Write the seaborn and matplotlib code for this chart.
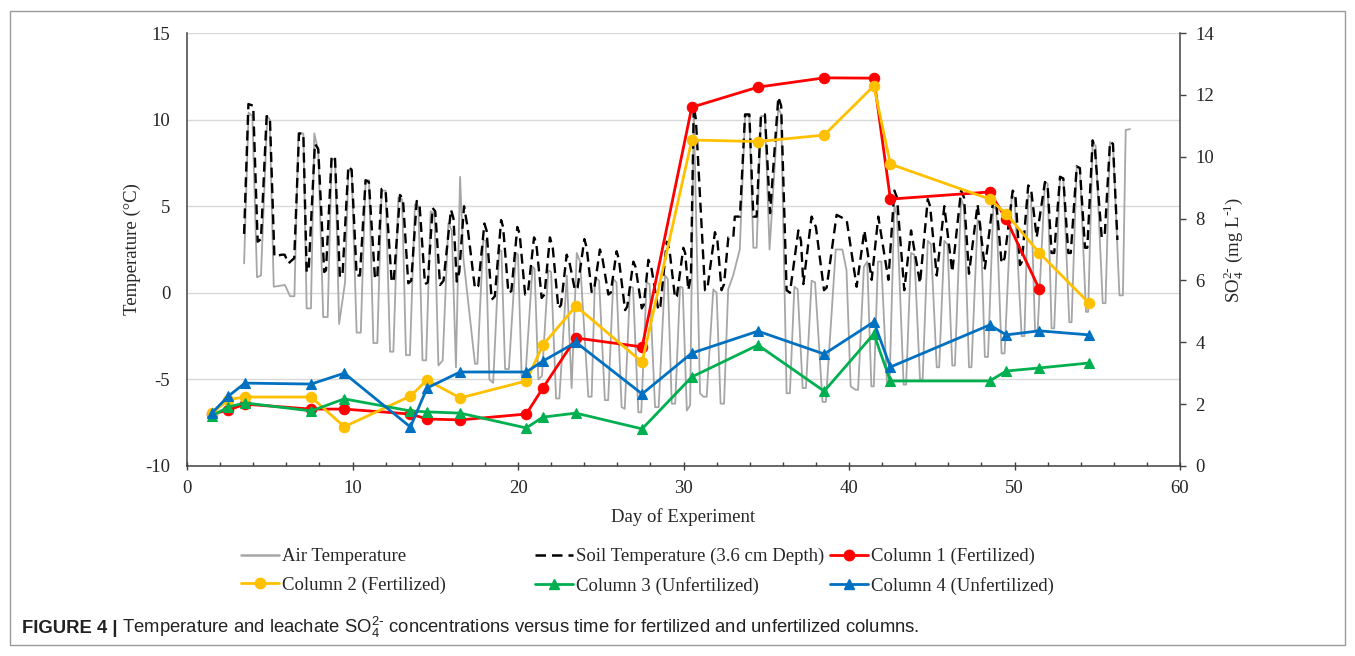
import numpy as np
import matplotlib
matplotlib.use("Agg")
import matplotlib.pyplot as plt
from matplotlib.lines import Line2D
from matplotlib.patches import Rectangle
from matplotlib.ticker import MultipleLocator
import seaborn as sns

# ---------------- data ----------------
# Air temperature (°C), vertices of the hourly record
air_day = [3.45, 3.72, 3.95, 4.23, 4.47, 4.85, 5.00, 5.24, 5.92, 6.23, 6.49, 6.73, 7.03, 7.23, 7.49,
           7.69, 7.93, 8.23, 8.50, 8.74, 8.95, 9.19, 9.55, 9.75, 9.95, 10.25, 10.50, 10.79, 11.00,
           11.26, 11.50, 11.76, 12.00, 12.27, 12.47, 12.77, 13.00, 13.23, 13.47, 13.77, 13.98, 14.23,
           14.45, 14.72, 14.95, 15.19, 15.45, 15.79, 16.00, 16.25, 16.50, 16.70, 17.40, 17.55, 17.90,
           18.05, 18.27, 18.50, 18.87, 19.00, 19.22, 19.45, 19.88, 20.00, 20.22, 20.45, 20.88, 21.00,
           21.23, 21.45, 21.83, 22.00, 22.30, 22.50, 22.95, 23.24, 23.55, 23.75, 24.25, 24.45, 24.65,
           24.90, 25.25, 25.45, 25.76, 25.95, 26.26, 26.45, 26.77, 26.95, 27.27, 27.45, 27.77, 27.95,
           28.28, 28.50, 28.88, 29.05, 29.29, 29.50, 29.79, 29.95, 30.20, 30.40, 30.62, 31.00, 31.20,
           31.40, 31.80, 32.00, 32.24, 32.45, 32.70, 33.00, 33.40, 33.72, 33.98, 34.22, 34.42, 34.68,
           34.92, 35.20, 35.73, 35.90, 36.23, 36.43, 36.70, 36.90, 37.20, 37.40, 37.74, 37.95, 38.40,
           38.60, 39.20, 39.60, 39.85, 40.10, 40.40, 40.55, 40.90, 41.10, 41.35, 41.50, 41.75, 41.95,
           42.30, 42.45, 42.74, 42.90, 43.30, 43.45, 43.75, 43.95, 44.29, 44.45, 44.76, 44.95, 45.30,
           45.45, 45.76, 45.95, 46.24, 46.40, 46.77, 46.95, 47.25, 47.40, 47.77, 47.95, 48.21, 48.40,
           48.72, 48.90, 49.22, 49.40, 49.83, 50.00, 50.43, 50.60, 50.83, 51.00, 51.24, 51.40, 51.84,
           52.00, 52.24, 52.40, 52.75, 52.95, 53.31, 53.45, 53.76, 53.95, 54.32, 54.45, 54.72, 54.90,
           55.33, 55.50, 55.77, 55.95, 56.34, 56.55, 56.72, 56.98]
air_temp = [1.7, 10.4, 10.2, 0.9, 1.0, 10.2, 10.0, 0.35, 0.45, -0.2, -0.2, 9.2, 9.2, -0.9, -0.9,
            9.2, 8.2, -1.4, -1.4, 7.7, 7.7, -1.8, 0.6, 7.1, 7.0, -2.3, -2.3, 6.5, 6.5,
            -2.9, -2.9, 5.9, 5.9, -3.4, -3.4, 5.5, 5.4, -3.6, -3.6, 5.1, 5.0, -3.9,
            -3.9, 4.7, 4.6, -4.2, -3.9, 4.0, 3.6, -4.3, 6.7, 2.0, -4.1, -4.1, 3.05,
            3.0, -5.0, -5.2, 2.5, 2.4, -4.4, -4.4, 2.3, 2.2, -4.8, -4.8, 1.5, 1.4,
            -5.0, -4.8, 1.3, 1.2, -6.1, -6.1, 1.0, -5.5, 2.3, 1.8, -6.0, -6.0, 0.9,
            0.7, -6.2, -6.2, 0.8, 0.6, -6.6, -6.7, 0.35, 0.3, -6.9, -6.9, 0.6, 0.5,
            -6.6, -6.6, 1.0, 0.8, -6.4, -6.4, 0.35, 0.3, -6.8, -6.5, 10.5, -5.8, -6.0,
            -6.0, 0.2, 0.0, -6.4, -6.4, 0.2, 1.0, 2.5, 10.2, 10.2, 2.6, 2.6, 10.2,
            10.2, 2.5, 10.7, 10.3, -5.8, -5.8, 0.35, 0.2, -5.5, -5.5, 0.7, 0.6, -6.3,
            -6.3, 2.5, 2.5, 1.3, -5.4, -5.6, -5.6, 1.5, 1.8, -5.4, -5.4, 1.8, 1.8,
            -5.3, -5.3, 5.0, 4.5, -5.3, -5.3, 2.3, 2.2, -5.0, -5.0, 3.0, 2.8, -4.3,
            -4.3, 3.0, 2.8, -4.2, -4.2, 5.4, 5.0, -4.3, -4.3, 4.2, 4.0, -3.7, -3.7,
            5.0, 4.8, -3.5, -3.5, 5.6, 5.5, -2.5, -2.5, 5.65, 5.5, -2.15, -2.15, 6.4,
            6.3, -2.05, -2.05, 6.7, 6.6, -1.7, -1.7, 7.3, 7.2, -1.1, -1.1, 8.6, 8.5,
            -0.6, -0.6, 8.7, 8.6, -0.15, -0.15, 9.4, 9.45]

# Soil temperature at 3.6 cm depth (°C)
soil_day = [3.45, 3.71, 4.00, 4.27, 4.47, 4.81, 5.01, 5.28, 5.72, 5.90, 6.13, 6.48, 6.77, 7.03, 7.23,
            7.35, 7.73, 7.93, 8.29, 8.40, 8.74, 8.94, 9.24, 9.40, 9.75, 9.95, 10.25, 10.45, 10.79,
            10.99, 11.36, 11.50, 11.76, 12.00, 12.37, 12.50, 12.87, 13.05, 13.37, 13.55, 13.88, 14.05,
            14.38, 14.55, 14.84, 15.00, 15.29, 15.50, 15.95, 16.10, 16.30, 16.45, 16.74, 16.95, 17.40,
            17.60, 17.97, 18.10, 18.41, 18.60, 18.98, 19.10, 19.42, 19.60, 19.96, 20.10, 20.43, 20.60,
            20.97, 21.10, 21.43, 21.60, 21.93, 22.10, 22.44, 22.60, 22.94, 23.10, 23.44, 23.60, 24.01,
            24.15, 24.45, 24.60, 24.95, 25.10, 25.46, 25.60, 25.96, 26.10, 26.47, 26.60, 26.97, 27.10,
            27.48, 27.60, 27.88, 28.05, 28.48, 28.60, 28.99, 29.15, 29.49, 29.60, 29.99, 30.10, 30.29,
            30.45, 30.62, 30.75, 31.30, 31.45, 31.90, 32.05, 32.30, 32.45, 32.71, 33.01, 33.10, 33.41,
            33.72, 33.98, 34.22, 34.42, 34.68, 34.92, 35.23, 35.73, 35.90, 36.23, 36.43, 36.94, 37.10,
            37.24, 37.74, 38.00, 38.49, 38.65, 39.25, 39.86, 40.46, 40.93, 41.37, 41.77, 42.38, 42.74,
            42.90, 43.34, 43.75, 44.29, 44.76, 44.90, 45.30, 45.76, 46.24, 46.77, 46.95, 47.25, 47.77,
            48.21, 48.72, 48.90, 49.22, 49.40, 49.89, 50.05, 50.33, 50.45, 50.83, 51.00, 51.34, 51.84,
            52.00, 52.24, 52.40, 52.75, 52.95, 53.25, 53.40, 53.76, 53.95, 54.26, 54.40, 54.72, 54.85,
            55.27, 55.45, 55.77, 55.95, 56.22]
soil_temp = [3.4, 10.9, 10.8, 2.95, 3.1, 10.2, 10.1, 2.1, 2.2, 2.2, 1.7, 2.0, 9.2, 9.2, 1.2,
             1.3, 8.6, 8.3, 1.2, 1.3, 7.9, 7.8, 0.9, 1.1, 7.3, 7.1, 1.0, 1.0, 6.5,
             6.4, 0.8, 0.9, 6.0, 5.9, 0.6, 0.8, 5.65, 5.4, 0.55, 0.7, 5.3, 5.1,
             0.5, 0.6, 4.9, 4.7, 0.45, 0.7, 4.8, 4.3, 0.65, 1.2, 5.0, 3.8, 0.25,
             0.4, 4.0, 3.6, -0.4, -0.2, 4.2, 3.8, 0.0, 0.1, 3.8, 3.4, -0.1, 0.0,
             3.2, 2.9, -0.3, -0.1, 3.2, 2.6, -0.9, -0.7, 2.2, 1.8, 0.15, 0.3, 3.1,
             2.6, 0.05, 0.2, 2.5, 2.0, -0.1, 0.0, 2.4, 1.9, -1.0, -0.8, 1.8, 1.5,
             -0.9, -0.7, 1.9, 1.5, -1.0, -0.8, 2.95, 2.5, -0.3, -0.2, 2.6, 2.3, 0.15,
             1.0, 10.8, 10.0, 0.15, 0.3, 3.5, 3.0, 0.15, 0.5, 3.2, 3.2, 4.4, 4.4,
             10.3, 10.3, 4.4, 4.4, 10.3, 10.3, 4.6, 11.3, 10.8, 0.15, 0.0, 3.6, 3.0,
             0.5, 4.4, 3.8, 0.15, 0.3, 4.5, 4.2, 0.35, 3.6, 0.75, 4.4, 0.75, 5.9,
             5.5, 0.15, 3.6, 0.55, 5.4, 5.0, 1.0, 5.0, 1.2, 5.9, 5.5, 1.1, 5.1,
             1.4, 5.4, 5.2, 1.7, 2.0, 5.9, 5.7, 1.6, 1.8, 6.2, 6.0, 3.2, 6.4,
             6.2, 2.3, 2.3, 6.7, 6.6, 2.3, 2.3, 7.3, 7.2, 2.6, 2.6, 8.8, 8.4,
             3.2, 3.3, 8.7, 8.6, 3.05]

# Leachate sulfate (mg L-1) by sampling day
so4_day = [1.5, 2.5, 3.5, 7.5, 9.5, 13.5, 14.5, 16.5, 20.5, 21.5, 23.5, 27.5, 30.5, 34.5,
           38.5, 41.5, 42.5, 48.5, 49.5, 51.5, 54.5]
column1 = [1.68, 1.81, 2.0, 1.84, 1.84, 1.68, 1.52, 1.49, 1.68, 2.52, 4.14, 3.85, 11.6, 12.25,
           12.55, 12.54, 8.63, 8.86, 7.98, 5.72]
column2 = [1.7, 2.15, 2.23, 2.23, 1.27, 2.26, 2.78, 2.2, 2.75, 3.91, 5.17, 3.36, 10.54, 10.49,
           10.7, 12.29, 9.76, 8.63, 8.15, 6.89, 5.27]
column3 = [1.62, 1.91, 2.04, 1.78, 2.17, 1.78, 1.75, 1.71, 1.23, 1.58, 1.71, 1.2, 2.88, 3.91,
           2.42, 4.27, 2.75, 2.75, 3.07, 3.17, 3.33]
column4 = [1.71, 2.26, 2.68, 2.65, 3.0, 1.26, 2.52, 3.04, 3.04, 3.39, 4.0, 2.33, 3.65, 4.36,
           3.62, 4.66, 3.2, 4.56, 4.24, 4.37, 4.24]

temp_ticks = [-10, -5, 0, 5, 10, 15]
so4_ticks = [0, 2, 4, 6, 8, 10, 12, 14]
day_ticks = [0, 10, 20, 30, 40, 50, 60]

# ---------------- style ----------------
sns.set_theme(style="white")
plt.rcParams["font.family"] = ["Liberation Serif", "DejaVu Serif"]
plt.rcParams["mathtext.default"] = "regular"
plt.rcParams["axes.unicode_minus"] = False

FS = 13.5
GRAY = "#A6A6A6"
RED, GOLD, GREEN, BLUE = "#FF0000", "#FFC000", "#00B050", "#0070C0"
SPINE = "#404040"
TXT = "#262626"
SOIL_DASH = (0, (4.2, 2.4))

W, H = 1355, 656
fig = plt.figure(figsize=(W / 100, H / 100), dpi=100)
fig.patch.set_facecolor("white")
ax = fig.add_axes([187 / W, 1 - 466 / H, (1180 - 187) / W, (466 - 33) / H])
ax2 = ax.twinx()

# temperature records on the left axis
sns.lineplot(x=air_day, y=air_temp, ax=ax, color=GRAY, lw=1.3, estimator=None, sort=False)
sns.lineplot(x=soil_day, y=soil_temp, ax=ax, color="black", lw=1.7, linestyle=SOIL_DASH,
             estimator=None, sort=False)

# sulfate concentrations on the right axis
series = [(column1, RED, "o"), (column2, GOLD, "o"), (column3, GREEN, "^"), (column4, BLUE, "^")]
for vals, col, mk in series:
    sns.lineplot(x=so4_day[:len(vals)], y=vals, ax=ax2, color=col, lw=2.0, marker=mk,
                 markersize=7.5 if mk == "o" else 7, markeredgecolor=col, markeredgewidth=0.8,
                 estimator=None, sort=False)

# axes limits, ticks, grid
ax.set_xlim(0, 60)
ax.set_ylim(-10, 15)
ax2.set_ylim(0, 14)
ax.set_xticks(day_ticks)
ax.xaxis.set_minor_locator(MultipleLocator(2))
ax.set_yticks(temp_ticks)
ax2.set_yticks(so4_ticks)
ax.yaxis.grid(True, color="#D9D9D9", lw=1.0)
ax.xaxis.grid(False)
ax2.grid(False)
ax.set_axisbelow(True)

for a in (ax, ax2):
    a.spines["top"].set_visible(False)
    for s in ("left", "right", "bottom"):
        a.spines[s].set_color(SPINE)
        a.spines[s].set_linewidth(1.1)
ax.spines["right"].set_visible(False)
ax2.spines["left"].set_visible(False)
ax2.spines["bottom"].set_visible(False)

ax.tick_params(axis="x", which="major", direction="inout", length=6, width=1, color=SPINE,
               labelsize=FS, pad=7, bottom=True)
ax.tick_params(axis="x", which="minor", direction="in", length=3, width=1, color=SPINE, bottom=True)
ax.tick_params(axis="y", which="major", length=0, labelsize=FS, pad=12, left=True)
ax2.tick_params(axis="y", which="major", direction="out", length=4, width=1, color=SPINE,
                labelsize=FS, pad=7, right=True)
for t in ax.get_xticklabels() + ax.get_yticklabels() + ax2.get_yticklabels():
    t.set_color(TXT)

ax.set_xlabel("Day of Experiment", fontsize=FS, labelpad=8, color=TXT)
ax.set_ylabel("Temperature (°C)", fontsize=FS, labelpad=3, color=TXT)
ax2.set_ylabel(r"SO$_4^{2\text{-}}$ (mg L$^{\text{-}1}$)", fontsize=FS, labelpad=6, color=TXT)

# legend laid out in three fixed columns
h_air = Line2D([], [], color=GRAY, lw=1.8)
h_soil = Line2D([], [], color="black", lw=1.8, linestyle=SOIL_DASH)
h1 = Line2D([], [], color=RED, lw=2.0, marker="o", markersize=7.5)
h2 = Line2D([], [], color=GOLD, lw=2.0, marker="o", markersize=7.5)
h3 = Line2D([], [], color=GREEN, lw=2.0, marker="^", markersize=7)
h4 = Line2D([], [], color=BLUE, lw=2.0, marker="^", markersize=7)
legend_cols = [
    (241, [h_air, h2], ["Air Temperature", "Column 2 (Fertilized)"]),
    (535, [h_soil, h3], ["Soil Temperature (3.6 cm Depth)", "Column 3 (Unfertilized)"]),
    (830, [h1, h4], ["Column 1 (Fertilized)", "Column 4 (Unfertilized)"]),
]
for x0, hs, labs in legend_cols:
    fig.legend(hs, labs, loc="upper left", bbox_to_anchor=(x0 / W, 1 - 548 / H),
               frameon=False, fontsize=FS, handlelength=2.05, handletextpad=0.12,
               labelspacing=0.62, borderpad=0, borderaxespad=0, numpoints=1,
               labelcolor=TXT)

# caption
fig.canvas.draw()
cap_y = 1 - 633 / H
CAP_FS = 13.3
t1 = fig.text(22 / W, cap_y, "FIGURE 4 |", family="Liberation Sans", fontweight="bold",
              fontsize=CAP_FS, va="baseline", ha="left", color="#222222")
fig.canvas.draw()
bb = t1.get_window_extent()
fig.text((bb.x1 + 5) / W, cap_y,
         r"Temperature and leachate SO$_4^{2\text{-}}$ concentrations versus time for fertilized and unfertilized columns.",
         family="Liberation Sans", fontsize=CAP_FS, va="baseline", ha="left", color="#222222")

# outer frame
fig.add_artist(Rectangle((10 / W, 11 / H), (1345 - 10) / W, (645 - 11) / H, transform=fig.transFigure,
                         fill=False, edgecolor="#9A9A9A", lw=1.0))

fig.savefig("out.png", dpi=100, facecolor="white")
